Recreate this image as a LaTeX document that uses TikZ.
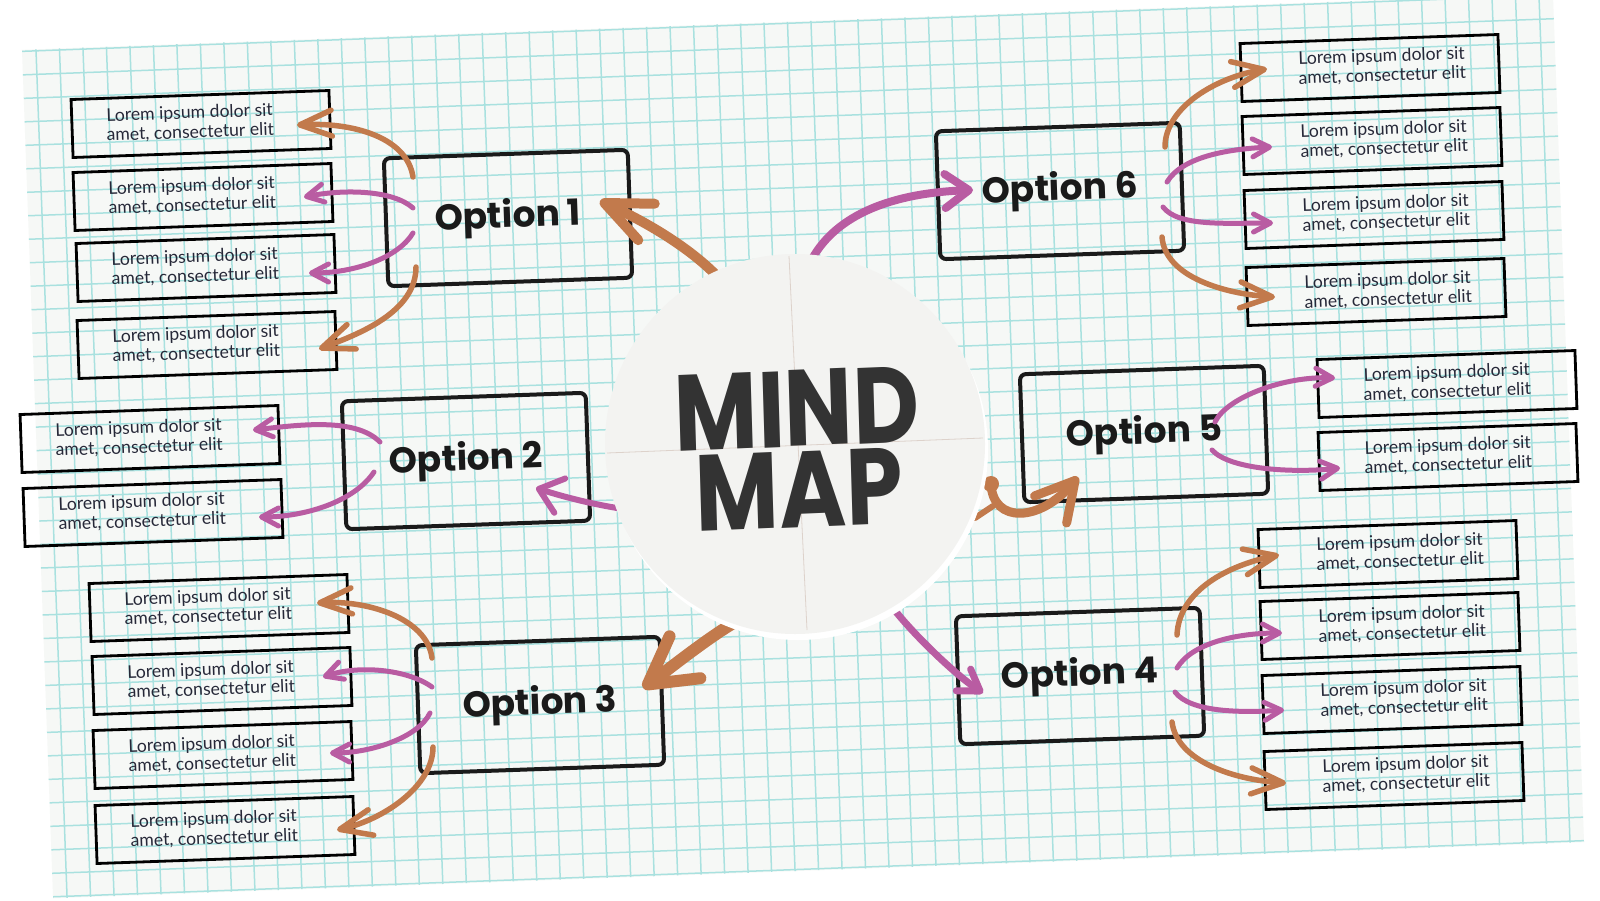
\documentclass[tikz,border=0pt]{standalone}
\usepackage{fontspec}
\setmainfont{Lato}
\newfontfamily\popfont{Poppins}
\usetikzlibrary{arrows.meta,calc}
\definecolor{brownc}{HTML}{C27A4C}
\definecolor{magc}{HTML}{B95CA2}
\definecolor{gridc}{HTML}{A9E1DF}
\definecolor{paperc}{HTML}{F6F8F6}
\definecolor{circc}{HTML}{F3F3F1}
\definecolor{txtc}{HTML}{262838}
\definecolor{inkc}{HTML}{1A1A1A}
\definecolor{quadc}{HTML}{DDD2CB}
\definecolor{mmc}{HTML}{333333}
\newcommand{\loremtxt}{\begin{tabular}{@{}c@{}}Lorem ipsum dolor sit\\amet, consectetur elit\end{tabular}}
\newcommand{\loremL}{\loremtxt\hspace*{22pt}}
\newcommand{\loremR}{\hspace*{24pt}\loremtxt}
\begin{document}
\begin{tikzpicture}[x=1pt,y=-1pt,
  leaf/.style={draw=black, line width=2.8pt, minimum width=258pt, minimum height=58pt, inner sep=0pt, rotate=2, text=txtc, font=\fontsize{17.6}{19.5}\selectfont},
  opt/.style={draw=inkc, line width=4pt, rounded corners=6pt, minimum width=244pt, minimum height=128pt, rotate=2, text=inkc, font=\popfont\bfseries\fontsize{36}{42}\selectfont},
  bA/.style={draw=brownc, line width=5.5pt, line cap=round, -{Straight Barb[length=32pt,width=26pt,round]}},
  mA/.style={draw=magc, line width=5pt, line cap=round, -{Straight Barb[length=17pt,width=18pt,round]}},
  gline/.style={draw=gridc, line width=1.5pt},
  qline/.style={draw=quadc, line width=0.8pt}]
\useasboundingbox (0,0) rectangle (1600,900);
\fill[white] (0,0) rectangle (1600,900);
% paper with grid
\begin{scope}[shift={(803,446)},rotate=2.1]
  \fill[paperc] (-766,-424.5) rectangle (766,424.5);
  \foreach \x in {-752,-728.5,...,753} \draw[gline] (\x,-424.5) -- (\x,424.5);
  \foreach \y in {-423,-399.5,...,424} \draw[gline] (-766,\y) -- (766,\y);
\end{scope}
% option boxes
\node[opt] (o1) at (508,218) {Option 1};
\node[opt] (o2) at (466,461) {Option 2};
\node[opt] (o3) at (540,705) {Option 3};
\node[opt] (o4) at (1080,676) {Option 4};
\node[opt] (o5) at (1144,434) {Option 5};
\node[opt] (o6) at (1060,191) {Option 6};
% centre
\coordinate (mm) at (795,444);
% main arrows
\draw[brownc, line width=10pt, line cap=round, -{Straight Barb[length=46pt,width=40pt,round]}] ($(mm)+(-80,-170)$) .. controls +(-30,-30) and +(40,18) .. ($(o1)+(92,-17)$);
\draw[magc, line width=6pt, line cap=round, -{Straight Barb[length=22pt,width=36pt,round]}] ($(mm)+(-178,64)$) .. controls +(-30,-5) and +(25,8) .. ($(o2)+(70,27)$);
\draw[brownc, line width=12pt, line cap=round, -{Straight Barb[length=46pt,width=52pt,round]}] ($(mm)+(-60,178)$) .. controls +(-30,18) and +(30,-22) .. ($(o3)+(103,-17)$);
\draw[magc, line width=7pt, line cap=round, -{Straight Barb[length=20pt,width=26pt,round]}] ($(mm)+(95,160)$) .. controls +(18,25) and +(-30,-20) .. ($(o4)+(-97,17)$);
\draw[brownc, line width=9pt, line cap=round, -{Straight Barb[length=38pt,width=42pt,round]}] ($(mm)+(196,40)$) .. controls +(2,40) and +(-38,45) .. ($(o5)+(-66,43)$);
\draw[brownc, line width=6pt, line cap=round] ($(mm)+(198,62)$) -- ($(mm)+(180,74)$);
\fill[brownc] ($(mm)+(196,40)$) circle (8pt);
\draw[magc, line width=8pt, line cap=round, -{Straight Barb[length=24pt,width=34pt,round]}] ($(mm)+(17,-185)$) .. controls +(25,-45) and +(-80,3) .. ($(o6)+(-87,-1)$);
% circle
\fill[white] (798,450) circle (190pt);
\node[circle, fill=circc, minimum size=380pt, inner sep=0pt] (mmc) at (mm) {};
\draw[qline] ($(mm)+(-6,-188)$) -- ($(mm)+(12,186)$);
\draw[qline] ($(mm)+(-188,9)$) -- ($(mm)+(188,-6)$);
\node[font=\popfont\bfseries\fontsize{108}{81}\selectfont, text=mmc, align=center, xscale=0.84, rotate=2] (mmtxt) at (798,449) {MIND\\MAP};
% leaves
\node[leaf] (l1a) at (201,124) {\loremL};
\node[leaf] (l1b) at (203,197) {\loremL};
\node[leaf] (l1c) at (206,268) {\loremL};
\node[leaf] (l1d) at (207,345) {\loremL};
\node[leaf] (l2a) at (150,439) {\loremL};
\node[leaf] (l2b) at (153,513) {\loremL};
\node[leaf] (l3a) at (219,608) {\loremL};
\node[leaf] (l3b) at (222,681) {\loremL};
\node[leaf] (l3c) at (223,755) {\loremL};
\node[leaf] (l3d) at (225,830) {\loremL};
\node[leaf] (l4a) at (1388,554) {\loremR};
\node[leaf] (l4b) at (1390,626) {\loremR};
\node[leaf] (l4c) at (1392,700) {\loremR};
\node[leaf] (l4d) at (1394,776) {\loremR};
\node[leaf] (l5a) at (1447,384) {\loremtxt};
\node[leaf] (l5b) at (1448,457) {\loremtxt};
\node[leaf] (l6a) at (1370,68) {\loremR};
\node[leaf] (l6b) at (1372,141) {\loremR};
\node[leaf] (l6c) at (1374,215) {\loremR};
\node[leaf] (l6d) at (1376,292) {\loremR};
% leaf arrows
\draw[bA] ($(o1)+(-95,-41)$) .. controls +(-6,-40) and +(55,-3) .. ($(l1a)+(96,1)$);
\draw[mA] ($(o1)+(-95,-10)$) .. controls +(-20,-18) and +(40,-8) .. ($(l1b)+(101,0)$);
\draw[mA] ($(o1)+(-95,15)$) .. controls +(-15,25) and +(45,0) .. ($(l1c)+(103,5)$);
\draw[bA] ($(o1)+(-92,49)$) .. controls +(0,45) and +(40,-15) .. ($(l1d)+(112,4)$);
\draw[mA] ($(o2)+(-86,-19)$) .. controls +(-25,-25) and +(45,-5) .. ($(l2a)+(103,-9)$);
\draw[mA] ($(o2)+(-92,11)$) .. controls +(-20,30) and +(45,0) .. ($(l2b)+(106,4)$);
\draw[bA] ($(o3)+(-108,-47)$) .. controls +(-5,-40) and +(50,-3) .. ($(l3a)+(98,-5)$);
\draw[mA] ($(o3)+(-108,-18)$) .. controls +(-25,-18) and +(35,-12) .. ($(l3b)+(101,-4)$);
\draw[mA] ($(o3)+(-110,8)$) .. controls +(-12,25) and +(40,0) .. ($(l3c)+(107,-2)$);
\draw[bA] ($(o3)+(-107,42)$) .. controls +(0,40) and +(45,-10) .. ($(l3d)+(112,0)$);
\draw[bA] ($(o4)+(97,-41)$) .. controls +(2,-45) and +(-50,10) .. ($(l4a)+(-109,1)$);
\draw[mA] ($(o4)+(97,-8)$) .. controls +(15,-25) and +(-45,0) .. ($(l4b)+(-108,7)$);
\draw[mA] ($(o4)+(95,16)$) .. controls +(15,20) and +(-45,3) .. ($(l4c)+(-108,10)$);
\draw[bA] ($(o4)+(92,46)$) .. controls +(5,40) and +(-50,-3) .. ($(l4d)+(-108,7)$);
\draw[mA] ($(o5)+(71,-12)$) .. controls +(12,-25) and +(-50,-2) .. ($(l5a)+(-112,-6)$);
\draw[mA] ($(o5)+(68,16)$) .. controls +(18,20) and +(-45,5) .. ($(l5b)+(-108,11)$);
\draw[bA] ($(o6)+(105,-44)$) .. controls +(0,-40) and +(-50,8) .. ($(l6a)+(-103,1)$);
\draw[mA] ($(o6)+(107,-9)$) .. controls +(15,-25) and +(-45,2) .. ($(l6b)+(-100,6)$);
\draw[mA] ($(o6)+(103,16)$) .. controls +(15,20) and +(-45,0) .. ($(l6c)+(-101,8)$);
\draw[bA] ($(o6)+(102,46)$) .. controls +(3,40) and +(-50,-3) .. ($(l6d)+(-101,5)$);
\end{tikzpicture}
\end{document}
